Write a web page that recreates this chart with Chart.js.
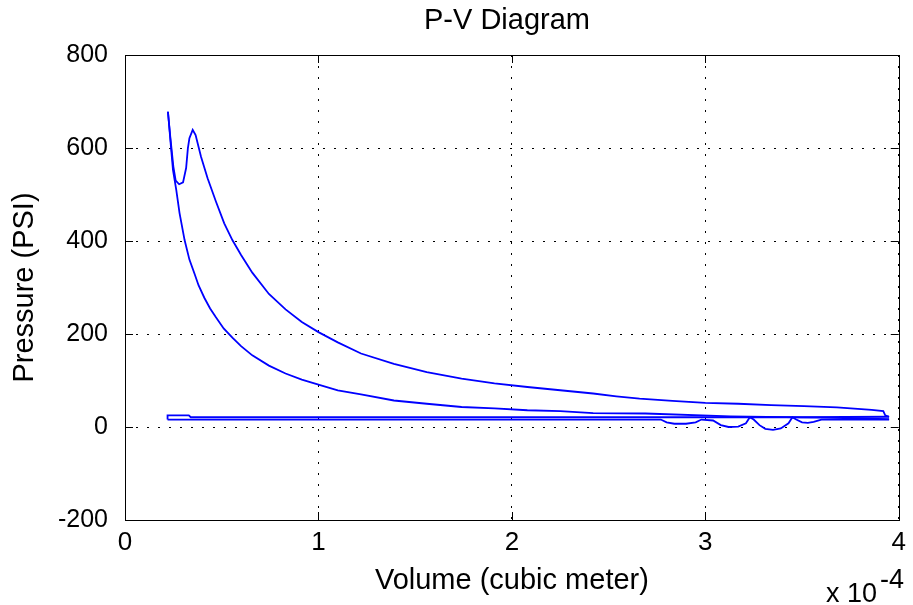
<!DOCTYPE html>
<html>
<head>
<meta charset="utf-8">
<script src="https://cdn.jsdelivr.net/npm/chart.js@4.4.0/dist/chart.umd.min.js"></script>
<style>
  html, body { margin: 0; padding: 0; background: #fff; }
</style>
</head>
<body>
<canvas id="chart" width="913" height="605"></canvas>
<script>
// volume is in units of 1e-4 cubic meter, pressure in PSI
var intakeV = [0.22, 0.6, 1.0, 1.5, 2.0, 2.5, 2.77, 2.80, 2.84, 2.90, 2.95, 2.98, 3.04, 3.08, 3.12, 3.17, 3.21, 3.23, 3.25, 3.28, 3.31, 3.35, 3.39, 3.43, 3.45, 3.47, 3.50, 3.53, 3.56, 3.60, 3.75, 3.95];
var intakeP = [16, 16, 16, 16, 16, 16, 16, 10, 7, 7, 10, 16, 14, 4, 0, 1, 8, 21, 16, 4, -4, -6, -3, 8, 21, 16, 10, 9, 11, 16, 16, 16];

var compV = [3.95, 3.6, 3.13, 2.69, 2.42, 2.25, 2.08, 1.91, 1.74, 1.56, 1.39, 1.22, 1.10, 1.0, 0.914, 0.83, 0.744, 0.658, 0.6, 0.555, 0.51, 0.47, 0.44, 0.41, 0.38, 0.359, 0.333, 0.308, 0.282, 0.265, 0.248, 0.239, 0.222];
var compP = [17, 20, 23, 29, 30, 34, 36, 40, 43, 50, 57, 70, 79, 91, 102, 115, 132, 154, 174, 192, 212, 236, 255, 278, 305, 330, 360, 402, 460, 510, 553, 596, 678];

var expV = [0.222, 0.235, 0.25, 0.262, 0.28, 0.30, 0.316, 0.325, 0.333, 0.35, 0.365, 0.393, 0.427, 0.47, 0.513, 0.555, 0.6, 0.658, 0.744, 0.83, 0.914, 1.0, 1.10, 1.22, 1.39, 1.56, 1.74, 1.91, 2.08, 2.25, 2.42, 2.54, 2.66, 2.83, 3.0, 3.17, 3.34, 3.51, 3.68, 3.86, 3.92, 3.93, 3.95];
var expP = [678, 620, 560, 530, 522, 526, 557, 599, 621, 639, 628, 581, 535, 485, 438, 402, 370, 332, 286, 253, 226, 204, 182, 158, 136, 118, 104, 94, 86, 79, 72, 66, 61, 56, 52, 50, 47, 45, 42, 37, 34, 25, 22];

var exhV = [3.95, 3.5, 3.0, 2.5, 2.0, 1.5, 1.0, 0.5, 0.34, 0.33, 0.22, 0.22];
var exhP = [22, 21, 21, 21, 21, 21, 21, 21, 21, 25, 25, 16];

var xTicks = [0, 1, 2, 3, 4];
var yTicks = [-200, 0, 200, 400, 600, 800];

var FONT = "'Liberation Sans', Arial, sans-serif";

function pts(vs, ps) {
    var out = [];
    for (var i = 0; i < vs.length; i++) {
        out.push({x: vs[i], y: ps[i]});
    }
    return out;
}

function line(vs, ps) {
    return {
        data: pts(vs, ps),
        showLine: true,
        borderColor: '#0000ff',
        borderWidth: 1.8,
        pointRadius: 0,
        fill: false,
        tension: 0
    };
}

// box round the axes, inner tick marks, title and the x10^-4 note
var frame = {
    id: 'frame',
    afterDraw: function(chart) {
        var ctx = chart.ctx, a = chart.chartArea;
        var xs = chart.scales.x, ys = chart.scales.y;
        ctx.save();
        ctx.strokeStyle = '#000';
        ctx.lineWidth = 1;
        ctx.strokeRect(Math.round(a.left) + 0.5, Math.round(a.top) + 0.5, Math.round(a.right - a.left), Math.round(a.bottom - a.top));
        ctx.beginPath();
        xs.ticks.forEach(function(t) {
            var px = Math.round(xs.getPixelForValue(t.value)) + 0.5;
            ctx.moveTo(px, a.bottom); ctx.lineTo(px, a.bottom - 8);
            ctx.moveTo(px, a.top); ctx.lineTo(px, a.top + 8);
        });
        ys.ticks.forEach(function(t) {
            var py = Math.round(ys.getPixelForValue(t.value)) + 0.5;
            ctx.moveTo(a.left, py); ctx.lineTo(a.left + 8, py);
            ctx.moveTo(a.right, py); ctx.lineTo(a.right - 8, py);
        });
        ctx.stroke();

        ctx.fillStyle = '#000';
        ctx.textAlign = 'center';
        ctx.textBaseline = 'top';
        ctx.font = '29px ' + FONT;
        ctx.fillText('P-V Diagram', 507, 6);

        ctx.font = '27px ' + FONT;
        ctx.textAlign = 'left';
        ctx.textBaseline = 'alphabetic';
        ctx.fillText('x 10', 826, 602);
        ctx.fillText('-4', 880, 588);
        ctx.restore();
    }
};

var chart = new Chart('chart', {
    type: 'scatter',
    data: {
        datasets: [
            line(intakeV, intakeP),
            line(compV, compP),
            line(expV, expP),
            line(exhV, exhP)
        ]
    },
    options: {
        responsive: false,
        animation: false,
        devicePixelRatio: 1,
        layout: { padding: { top: 55, right: 8, left: 0, bottom: 0 } },
        plugins: {
            legend: { display: false },
            tooltip: { enabled: false }
        },
        scales: {
            x: {
                type: 'linear',
                min: 0,
                max: 4,
                afterFit: function(s) { s.height = 85; },
                afterBuildTicks: function(s) { s.ticks = xTicks.map(function(v) { return {value: v}; }); },
                ticks: { color: '#000', padding: 7, font: { family: FONT, size: 26 } },
                grid: { color: '#000', lineWidth: 1, drawTicks: false },
                border: { display: false, dash: [2, 9] },
                title: { display: true, text: 'Volume (cubic meter)', color: '#000', padding: { top: 0, bottom: 7 }, font: { family: FONT, size: 29 } }
            },
            y: {
                type: 'linear',
                min: -200,
                max: 800,
                afterFit: function(s) { s.width = 125; },
                afterBuildTicks: function(s) { s.ticks = yTicks.map(function(v) { return {value: v}; }); },
                ticks: { color: '#000', padding: 17, font: { family: FONT, size: 25 } },
                grid: { color: '#000', lineWidth: 1, drawTicks: false },
                border: { display: false, dash: [2, 9] },
                title: { display: true, text: 'Pressure (PSI)', color: '#000', padding: { top: 8, bottom: 0 }, font: { family: FONT, size: 29 } }
            }
        }
    },
    plugins: [frame]
});
</script>
</body>
</html>
